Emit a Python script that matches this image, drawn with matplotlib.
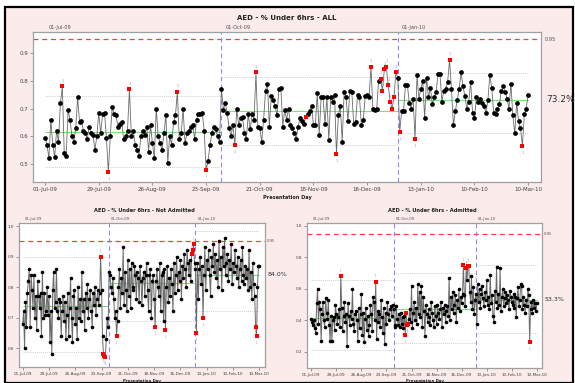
import matplotlib
matplotlib.use('Agg')
import matplotlib.pyplot as plt
import matplotlib.dates as mdates
from matplotlib.patches import Rectangle
import numpy as np
import pandas as pd

# daily data 01-Jul-09 .. 10-Mar-10
days = pd.date_range('2009-07-01', '2010-03-10', freq='D')
stage_starts = ['2009-07-01', '2009-10-01', '2010-01-01']
tick_days = pd.date_range('2009-07-01', periods=10, freq='28D')
target = 0.95

# ---- ALL ----
all_q3 = [0.595, 0.57, 0.52, 0.66, 0.57, 0.525, 0.62, 0.58, 0.72, 0.78,
          0.54, 0.53, 0.695, 0.66, 0.60, 0.58, 0.63, 0.74, 0.65, 0.655,
          0.62, 0.61, 0.59, 0.635, 0.61, 0.605, 0.55, 0.60, 0.685, 0.61,
          0.68, 0.685, 0.595, 0.47, 0.60, 0.705, 0.68, 0.675, 0.635, 0.645,
          0.65, 0.59, 0.60, 0.62, 0.77, 0.60, 0.62, 0.57, 0.55, 0.53,
          0.60, 0.62, 0.605, 0.635, 0.545, 0.64, 0.575, 0.52, 0.70, 0.60,
          0.575, 0.55, 0.61, 0.675, 0.505, 0.60, 0.57, 0.65, 0.675, 0.76,
          0.59, 0.61, 0.70, 0.575, 0.61, 0.62, 0.635, 0.64, 0.59, 0.66,
          0.68, 0.68, 0.685, 0.62, 0.48, 0.51, 0.57, 0.61, 0.635, 0.625,
          0.60, 0.58]
all_q4 = [0.77, 0.695, 0.72, 0.685, 0.63, 0.60, 0.64, 0.57, 0.70, 0.64,
          0.665, 0.67, 0.61, 0.59, 0.68, 0.625, 0.68, 0.66, 0.83, 0.635,
          0.63, 0.58, 0.66, 0.765, 0.79, 0.635, 0.745, 0.73, 0.71, 0.675,
          0.77, 0.775, 0.635, 0.695, 0.66, 0.70, 0.64,
          0.63, 0.61, 0.59, 0.635, 0.665, 0.655, 0.645, 0.67, 0.68, 0.69,
          0.71, 0.64, 0.64, 0.755, 0.605, 0.74, 0.74, 0.645, 0.74, 0.585,
          0.74, 0.725, 0.75, 0.535, 0.675, 0.71, 0.58, 0.76, 0.74, 0.655,
          0.765, 0.76, 0.645, 0.65, 0.75, 0.74, 0.64, 0.66, 0.745, 0.75,
          0.74, 0.85, 0.70, 0.695, 0.70, 0.80, 0.808, 0.765, 0.842, 0.85,
          0.784, 0.725, 0.70, 0.74, 0.83]
all_q1 = [0.81, 0.615, 0.69, 0.69, 0.785, 0.785, 0.72, 0.70, 0.735, 0.59,
          0.82, 0.735, 0.77, 0.80, 0.665, 0.81, 0.74, 0.775, 0.715, 0.74,
          0.76, 0.825, 0.825, 0.725, 0.765, 0.77, 0.795, 0.875, 0.77, 0.64,
          0.69, 0.73, 0.77, 0.83, 0.78, 0.745, 0.70, 0.725, 0.795, 0.685,
          0.665, 0.74, 0.725, 0.735, 0.72, 0.71, 0.685, 0.73, 0.82, 0.775,
          0.685, 0.68, 0.70, 0.715, 0.765, 0.78, 0.76, 0.735, 0.70, 0.79,
          0.675, 0.61, 0.72, 0.655, 0.63, 0.565, 0.68, 0.70, 0.75]
all_red = [9, 33, 44, 69, 84, 99, 110, 136, 152, 170, 175, 176, 177, 178,
           179, 180, 181, 182, 183, 185, 193, 211, 249]
all_center = [0.617, 0.69, 0.732]
all_ucl = [0.745, 0.815, 0.827]
all_lcl = [0.488, 0.569, 0.611]

# ---- Not Admitted ----
na_q3 = [0.68, 0.72, 0.60, 0.75, 0.67, 0.78, 0.82, 0.86, 0.67, 0.84,
         0.79, 0.73, 0.84, 0.70, 0.77, 0.66, 0.82, 0.77, 0.73, 0.78,
         0.64, 0.85, 0.70, 0.78, 0.71, 0.72, 0.80, 0.71, 0.77, 0.62,
         0.72, 0.58, 0.79, 0.85, 0.73, 0.75, 0.86, 0.72, 0.70, 0.76,
         0.75, 0.64, 0.72, 0.77, 0.69, 0.75, 0.63, 0.71, 0.78, 0.64,
         0.73, 0.83, 0.70, 0.62, 0.77, 0.79, 0.68, 0.73, 0.63, 0.80,
         0.70, 0.76, 0.69, 0.85, 0.72, 0.76, 0.66, 0.78, 0.73, 0.81,
         0.70, 0.76, 0.79, 0.72, 0.67, 0.78, 0.74, 0.80, 0.71, 0.76,
         0.79, 0.74, 0.78, 0.90, 0.79, 0.64, 0.58, 0.575, 0.57, 0.63,
         0.70, 0.67]
na_q4 = [0.85, 0.84, 0.80, 0.78, 0.83, 0.76, 0.70, 0.72, 0.64, 0.69,
         0.80, 0.86, 0.73, 0.83, 0.78, 0.93, 0.74, 0.85, 0.79, 0.72,
         0.89, 0.77, 0.86, 0.73, 0.88, 0.80, 0.79, 0.87, 0.84, 0.76,
         0.85, 0.83, 0.75, 0.87, 0.82, 0.74, 0.83, 0.85, 0.77, 0.84,
         0.88, 0.79, 0.72, 0.84, 0.86, 0.70, 0.82, 0.84, 0.76, 0.67,
         0.82, 0.86, 0.80, 0.77, 0.88, 0.72, 0.84, 0.85, 0.69, 0.86,
         0.66, 0.80, 0.87, 0.75, 0.83, 0.77, 0.86, 0.81, 0.72, 0.88,
         0.78, 0.84, 0.90, 0.79, 0.85, 0.82, 0.89, 0.76, 0.87, 0.83,
         0.91, 0.86, 0.80, 0.92, 0.88, 0.84, 0.89, 0.82, 0.91, 0.92,
         0.94, 0.88]
na_q1 = [0.86, 0.65, 0.88, 0.76, 0.86, 0.90, 0.81, 0.87, 0.70, 0.84,
         0.93, 0.79, 0.89, 0.86, 0.92, 0.84, 0.77, 0.90, 0.87, 0.94,
         0.85, 0.91, 0.83, 0.89, 0.80, 0.95, 0.86, 0.90, 0.79, 0.93,
         0.87, 0.96, 0.84, 0.88, 0.91, 0.82, 0.89, 0.86, 0.94, 0.81,
         0.88, 0.85, 0.92, 0.87, 0.83, 0.90, 0.80, 0.86, 0.89, 0.82,
         0.93, 0.84, 0.81, 0.87, 0.83, 0.86, 0.79, 0.92, 0.80, 0.85,
         0.76, 0.88, 0.81, 0.77, 0.67, 0.64, 0.80, 0.87, 0.87]
na_red = [83, 86, 87, 88, 100, 141, 152, 180, 181, 182, 185, 192, 248, 249]
na_center = [0.738, 0.812, 0.840]
na_ucl = [0.90, 0.95, 0.985]
na_lcl = [0.587, 0.69, 0.72]

# ---- Admitted ----
ad_q3 = [0.41, 0.39, 0.37, 0.40, 0.35, 0.32, 0.51, 0.60, 0.38, 0.52,
         0.47, 0.27, 0.44, 0.52, 0.40, 0.36, 0.54, 0.45, 0.41, 0.53,
         0.37, 0.27, 0.43, 0.27, 0.40, 0.42, 0.34, 0.50, 0.44, 0.38,
         0.42, 0.47, 0.36, 0.68, 0.48, 0.33, 0.43, 0.52, 0.39, 0.44,
         0.24, 0.51, 0.43, 0.37, 0.46, 0.41, 0.60, 0.38, 0.33, 0.44,
         0.46, 0.40, 0.27, 0.48, 0.35, 0.44, 0.57, 0.31, 0.45, 0.26,
         0.41, 0.48, 0.34, 0.43, 0.30, 0.37, 0.50, 0.44, 0.33, 0.55,
         0.52, 0.40, 0.645, 0.28, 0.46, 0.39, 0.44, 0.36, 0.53, 0.42,
         0.32, 0.48, 0.25, 0.45, 0.38, 0.52, 0.44, 0.40, 0.47, 0.49,
         0.43, 0.50]
ad_q4 = [0.47, 0.37, 0.36, 0.49, 0.41, 0.37, 0.44, 0.36, 0.45, 0.38,
         0.42, 0.35, 0.43, 0.31, 0.445, 0.37, 0.38, 0.41, 0.47, 0.39,
         0.62, 0.35, 0.45, 0.52, 0.40, 0.48, 0.38, 0.63, 0.44, 0.58,
         0.42, 0.62, 0.36, 0.55, 0.46, 0.30, 0.50, 0.44, 0.39, 0.47,
         0.42, 0.37, 0.52, 0.45, 0.40, 0.36, 0.49, 0.43, 0.38, 0.50,
         0.45, 0.41, 0.47, 0.52, 0.36, 0.48, 0.44, 0.50, 0.39, 0.46,
         0.49, 0.43, 0.67, 0.40, 0.55, 0.47, 0.58, 0.45, 0.50, 0.56,
         0.39, 0.53, 0.48, 0.60, 0.46, 0.55, 0.51, 0.57, 0.75, 0.56,
         0.49, 0.73, 0.66, 0.745, 0.745, 0.58, 0.52, 0.68, 0.47, 0.61,
         0.44, 0.53]
ad_q1 = [0.57, 0.38, 0.63, 0.52, 0.60, 0.48, 0.57, 0.62, 0.54, 0.49,
         0.58, 0.53, 0.66, 0.50, 0.55, 0.47, 0.69, 0.51, 0.56, 0.43,
         0.39, 0.59, 0.52, 0.74, 0.48, 0.57, 0.50, 0.73, 0.46, 0.55,
         0.60, 0.49, 0.54, 0.58, 0.51, 0.56, 0.53, 0.47, 0.59, 0.55,
         0.52, 0.50, 0.57, 0.48, 0.55, 0.42, 0.54, 0.61, 0.49, 0.53,
         0.63, 0.62, 0.47, 0.55, 0.50, 0.45, 0.53, 0.49, 0.60, 0.56,
         0.265, 0.47, 0.52, 0.45, 0.53, 0.48, 0.51, 0.46, 0.51]
ad_red = [33, 72, 105, 106, 107, 108, 170, 173, 175, 176, 244]
ad_center = [0.418, 0.471, 0.53]
ad_ucl = [0.657, 0.70, 0.75]
ad_lcl = [0.21, 0.257, 0.32]

W, H = 575, 383
PINK = '#fcebeb'
GREY = '#a0a0a0'


def fx(px):
    return px / W


def fy(py):
    return 1 - py / H


def draw_panel(rect, vals, red, centers, ucls, lcls, xlim, ylim, yticks,
               ms, lw, fs, pct, pct_fs):
    ax = fig.add_axes(rect)
    x = mdates.date2num(days)
    vals = np.array(vals)
    starts = [mdates.date2num(pd.Timestamp(s)) for s in stage_starts]
    ends = starts[1:] + [x[-1]]
    for s, e, c, u, l in zip(starts, ends, centers, ucls, lcls):
        ax.hlines(c, s, e, color='#7ee07e', lw=0.8, zorder=2)
        ax.hlines([u, l], s, e, color='#cfcfcf', lw=0.7,
                  linestyles=(0, (1, 1)), zorder=1)
    ax.axhline(target, color='#ff3b3b', lw=0.9, dashes=(4, 3), zorder=2)
    for b in starts[1:]:
        ax.axvline(b, color='#8a8aff', lw=0.8, dashes=(4, 3), zorder=2)
    ax.plot(x, vals, color='#6a6a6a', lw=lw, zorder=3)
    mask = np.zeros(len(vals), bool)
    mask[red] = True
    ax.plot(x[~mask], vals[~mask], 'o', color='black', ms=ms, mew=0, zorder=4)
    ax.plot(x[mask], vals[mask], 's', color='#ff0000', ms=ms, mew=0, zorder=5)
    stage = np.searchsorted(starts, x[mask], side='right') - 1
    for xi, vi, st in zip(x[mask], vals[mask], stage):
        off = 4 if vi > centers[st] else -5
        ax.annotate('1', (xi, vi), xytext=(0, off), textcoords='offset points',
                    ha='center', va='center', fontsize=fs * 0.6, color='#909090')

    x0 = x[0]
    ax.set_xlim(x0 + xlim[0], x0 + xlim[1])
    ax.set_ylim(*ylim)
    ax.set_xticks(mdates.date2num(tick_days))
    ax.xaxis.set_major_formatter(mdates.DateFormatter('%d-%b-%y'))
    ax.set_yticks(yticks)
    ax.yaxis.set_major_formatter(plt.FormatStrFormatter('%.1f'))
    ax.tick_params(direction='out', length=2, width=0.5, color='#707070',
                   labelsize=fs, labelcolor='#404040', pad=1.5)
    for sp in ax.spines.values():
        sp.set_color(GREY)
        sp.set_linewidth(0.9)
    ax.set_facecolor('white')

    tr = ax.get_xaxis_transform()
    for s in starts:
        ax.text(s + 2, 1.012, pd.Timestamp(mdates.num2date(s)).strftime('%d-%b-%y'),
                transform=tr, ha='left', va='bottom', fontsize=fs * 0.9,
                color='#505050')
    rt = ax.get_yaxis_transform()
    ax.text(1.008, target, '%.2f' % target, transform=rt, ha='left',
            va='center', fontsize=fs * 0.9, color='#505050')
    ax.text(1.01, centers[-1], pct, transform=rt, ha='left', va='center',
            fontsize=pct_fs, color='#303030')
    return ax


fig = plt.figure(figsize=(W / 100, H / 100), dpi=100)
fig.patch.set_facecolor('white')
fig.patches.append(Rectangle((fx(5), 0), fx(573) - fx(5), fy(7), facecolor=PINK,
                             edgecolor='black', lw=1.6, transform=fig.transFigure,
                             zorder=-5))

# top panel
draw_panel([fx(33), fy(182), fx(541) - fx(33), fy(32) - fy(182)],
           all_q3 + all_q4 + all_q1, all_red, all_center, all_ucl, all_lcl,
           (-6.3, 258.7), (0.435, 0.976), [0.5, 0.6, 0.7, 0.8, 0.9],
           3.4, 0.6, 4, '73.2%', 6.5)
fig.text(fx(287), fy(18), 'AED - % Under 6hrs - ALL', ha='center', va='center',
         fontsize=5, weight='bold', color='#202020')
fig.text(fx(287), fy(197), 'Presentation Day', ha='center', va='center',
         fontsize=3.6, weight='bold', color='#202020')

# bottom left
draw_panel([fx(19), fy(367), fx(265) - fx(19), fy(223) - fy(367)],
           na_q3 + na_q4 + na_q1, na_red, na_center, na_ucl, na_lcl,
           (-3.9, 258.0), (0.538, 1.01), [0.6, 0.7, 0.8, 0.9, 1.0],
           2.6, 0.7, 3, '84.0%', 4.5)
fig.text(fx(144), fy(210), 'AED - % Under 6hrs - Not Admitted', ha='center',
         va='center', fontsize=3.7, weight='bold', color='#202020')
fig.text(fx(142), fy(381), 'Presentation Day', ha='center', va='center',
         fontsize=2.8, weight='bold', color='#202020')

# bottom right
draw_panel([fx(307), fy(368), fx(542) - fx(307), fy(223) - fy(368)],
           ad_q3 + ad_q4 + ad_q1, ad_red, ad_center, ad_ucl, ad_lcl,
           (-4.8, 257.8), (0.098, 1.019), [0.2, 0.4, 0.6, 0.8, 1.0],
           2.6, 0.7, 3, '53.3%', 4.5)
fig.text(fx(432), fy(210), 'AED - % Under 6hrs - Admitted', ha='center',
         va='center', fontsize=3.7, weight='bold', color='#202020')
fig.text(fx(425), fy(381), 'Presentation Day', ha='center', va='center',
         fontsize=2.8, weight='bold', color='#202020')

fig.savefig('out.png', dpi=100, facecolor=fig.get_facecolor())
